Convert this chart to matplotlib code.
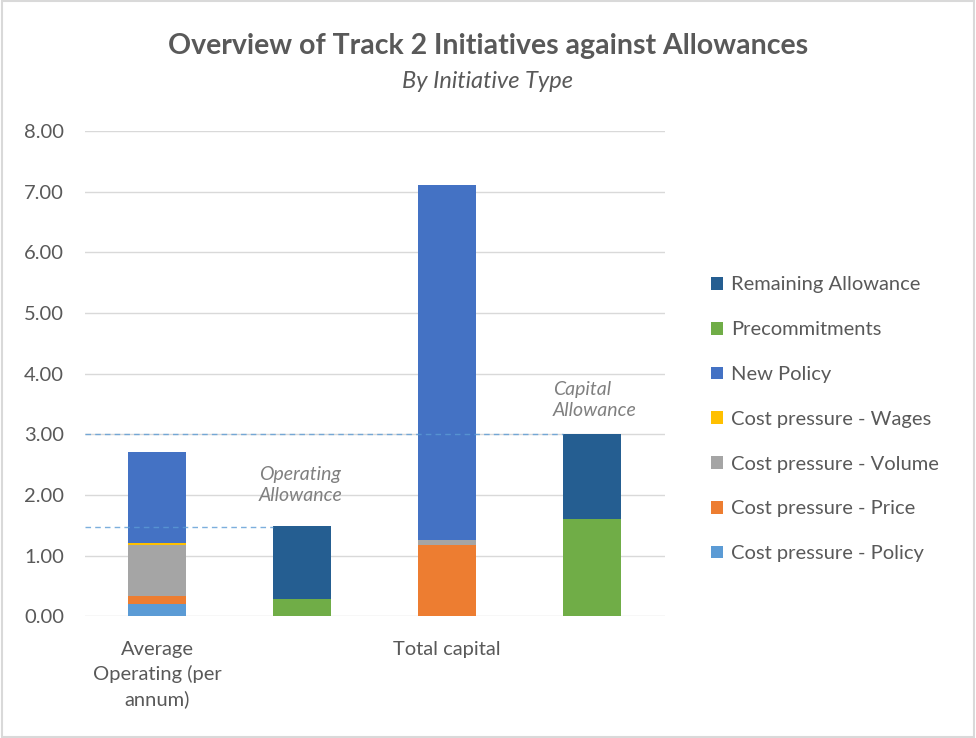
import matplotlib.pyplot as plt
import numpy as np

plt.rcParams['font.family'] = ['Lato', 'DejaVu Sans']

# Data
categories = ['Average\nOperating (per\nannum)', '', 'Total capital', '']
series_names = ['Cost pressure - Policy', 'Cost pressure - Price', 'Cost pressure - Volume',
                'Cost pressure - Wages', 'New Policy', 'Precommitments', 'Remaining Allowance']
policy = [0.20, 0.00, 0.00, 0.00]
price = [0.14, 0.00, 1.17, 0.00]
volume = [0.83, 0.00, 0.08, 0.00]
wages = [0.03, 0.00, 0.00, 0.00]
new_policy = [1.51, 0.00, 5.86, 0.00]
precommitments = [0.00, 0.28, 0.00, 1.60]
remaining = [0.00, 1.21, 0.00, 1.40]
operating_allowance = 1.47
capital_allowance = 3.00

colors = ['#5B9BD5', '#ED7D31', '#A5A5A5', '#FFC000', '#4472C4', '#70AD47', '#255E91']
series = [policy, price, volume, wages, new_policy, precommitments, remaining]

fig = plt.figure(figsize=(9.76, 7.38), dpi=100)
ax = fig.add_axes([0.087, 0.165, 0.594, 0.6575])

x = np.arange(len(categories))
bottom = np.zeros(len(categories))
handles = []
for name, vals, c in zip(series_names, series, colors):
    h = ax.bar(x, vals, bottom=bottom, width=0.4, color=c, label=name, zorder=3)
    handles.append(h)
    bottom += np.array(vals)

# allowance reference lines
ax.plot([-0.5, 0.8], [operating_allowance, operating_allowance], linestyle='--',
        color='#5B9BD5', linewidth=1, dashes=(4, 3), alpha=0.8, zorder=4)
ax.plot([-0.5, 2.8], [capital_allowance, capital_allowance], linestyle='--',
        color='#5B9BD5', linewidth=1, dashes=(4, 3), alpha=0.8, zorder=4)

ax.text(0.70, 2.17, 'Operating\nAllowance', ha='left', va='center', style='italic',
        fontsize=14, color='#808080', linespacing=1.3)
ax.text(2.73, 3.56, 'Capital\nAllowance', ha='left', va='center', style='italic',
        fontsize=14, color='#808080', linespacing=1.3)

ax.set_xlim(-0.5, 3.5)
ax.set_ylim(0, 8)
ax.set_yticks(np.arange(0, 9, 1))
ax.set_yticklabels(['%.2f' % v for v in np.arange(0, 9, 1)])
ax.set_xticks(x)
ax.set_xticklabels(categories, fontsize=14.5, color='#595959', linespacing=1.45, va='top')
ax.tick_params(axis='y', labelsize=14.5, labelcolor='#595959', length=0, pad=15)
ax.tick_params(axis='x', length=0, pad=18)
ax.grid(axis='y', color='#D9D9D9', linewidth=1, zorder=0)
for s in ['top', 'right', 'left', 'bottom']:
    ax.spines[s].set_visible(False)

leg = fig.legend(handles[::-1], series_names[::-1], loc='upper left',
                 bbox_to_anchor=(0.71, 0.65), frameon=False, fontsize=14.5,
                 handlelength=0.6, handleheight=0.6, handletextpad=0.4,
                 labelspacing=1.38, labelcolor='#595959')

fig.text(0.5, 0.938, 'Overview of Track 2 Initiatives against Allowances', ha='center',
         va='center', fontsize=20.5, fontweight='bold', color='#595959')
fig.text(0.5, 0.889, 'By Initiative Type', ha='center', va='center', fontsize=17,
         style='italic', color='#595959')

fig.patches.append(plt.Rectangle((0.002, 0.002), 0.996, 0.996, transform=fig.transFigure,
                                 fill=False, edgecolor='#D9D9D9', linewidth=1.5))

fig.savefig('out.png', dpi=100)
